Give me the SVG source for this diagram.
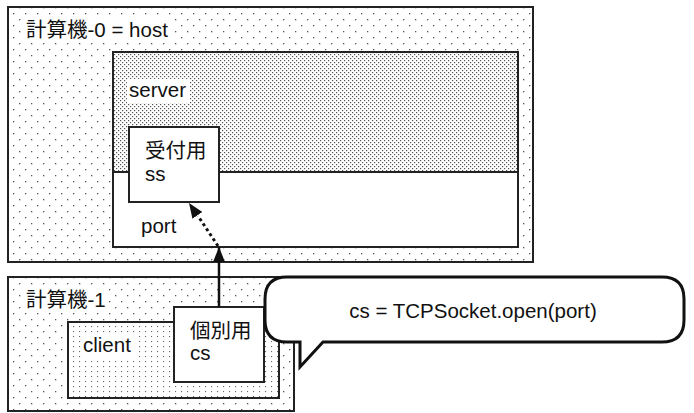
<svg xmlns="http://www.w3.org/2000/svg" width="694" height="413" viewBox="0 0 694 413">
<style>
.t{font-family:"Liberation Sans","Noto Sans CJK JP",sans-serif;font-size:20.5px;fill:#111}
.box{stroke:#222;stroke-width:2}
.lbl{fill:#fff}
</style>
<defs>
<pattern id="sparse" width="12" height="12" patternUnits="userSpaceOnUse">
<rect width="12" height="12" fill="#fff"/>
<rect x="1" y="1" width="1.3" height="1.3" fill="#555"/>
<rect x="7" y="7" width="1.3" height="1.3" fill="#555"/>
</pattern>
<pattern id="dense" width="4" height="4" patternUnits="userSpaceOnUse">
<rect width="4" height="4" fill="#fff"/>
<rect x="0" y="0" width="1.2" height="1.2" fill="#555"/>
<rect x="2" y="2" width="1.2" height="1.2" fill="#555"/>
</pattern>
<pattern id="mid" width="6" height="5" patternUnits="userSpaceOnUse">
<rect width="6" height="5" fill="#fff"/>
<rect x="1" y="1" width="1.1" height="1.1" fill="#666"/>
</pattern>
<marker id="ah" markerUnits="userSpaceOnUse" markerWidth="16" markerHeight="12" refX="15" refY="6" orient="auto">
<path d="M0,0 L15,6 L0,12 Z" fill="#111"/>
</marker>
</defs>
<g id="host">
<rect class="box" x="8" y="7" width="525" height="255" fill="url(#sparse)"/>
<rect class="lbl" x="23" y="17" width="148" height="26"/>
<text class="t" x="26" y="37">計算機-0 = host</text>
</g>
<g id="server">
<rect class="box" x="113" y="52" width="405" height="120" fill="url(#dense)"/>
<rect class="box" x="113" y="172" width="405" height="75" fill="#fff"/>
<rect class="lbl" x="127" y="79" width="63" height="24"/>
<text class="t" x="129" y="97">server</text>
<text class="t" x="141" y="233">port</text>
</g>
<g id="ss">
<rect class="box" x="129" y="127" width="90" height="75" fill="#fff"/>
<text class="t" x="145" y="158">受付用</text>
<text class="t" x="145" y="181">ss</text>
</g>
<g id="machine1">
<rect class="box" x="8" y="277" width="286" height="134" fill="url(#sparse)"/>
<rect class="lbl" x="23" y="287" width="82" height="26"/>
<text class="t" x="26" y="307">計算機-1</text>
</g>
<g id="client">
<rect class="box" x="68" y="322" width="211" height="76" fill="url(#mid)"/>
<rect class="lbl" x="81" y="334" width="57" height="24"/>
<text class="t" x="83" y="352">client</text>
</g>
<g id="cs">
<rect class="box" x="174" y="307" width="90" height="75" fill="#fff"/>
<text class="t" x="190" y="338">個別用</text>
<text class="t" x="190" y="360">cs</text>
</g>
<g id="bubble">
<path d="M287,277 H662 Q684,277 684,299 V320 Q684,342 662,342 H323 L300,367 V342 H287 Q265,342 265,320 V299 Q265,277 287,277 Z" fill="#fff" stroke="#111" stroke-width="3"/>
<text class="t" x="473" y="318" text-anchor="middle">cs = TCPSocket.open(port)</text>
</g>
<g id="connectors">
<line x1="219" y1="307" x2="219" y2="247" stroke="#111" stroke-width="2.5" marker-end="url(#ah)"/>
<line x1="218" y1="246" x2="198" y2="216" stroke="#111" stroke-width="3" stroke-dasharray="3 3"/>
<path d="M197.4,215.4 L189,203" stroke="#111" stroke-width="0.1" marker-end="url(#ah)"/>
</g>
</svg>
